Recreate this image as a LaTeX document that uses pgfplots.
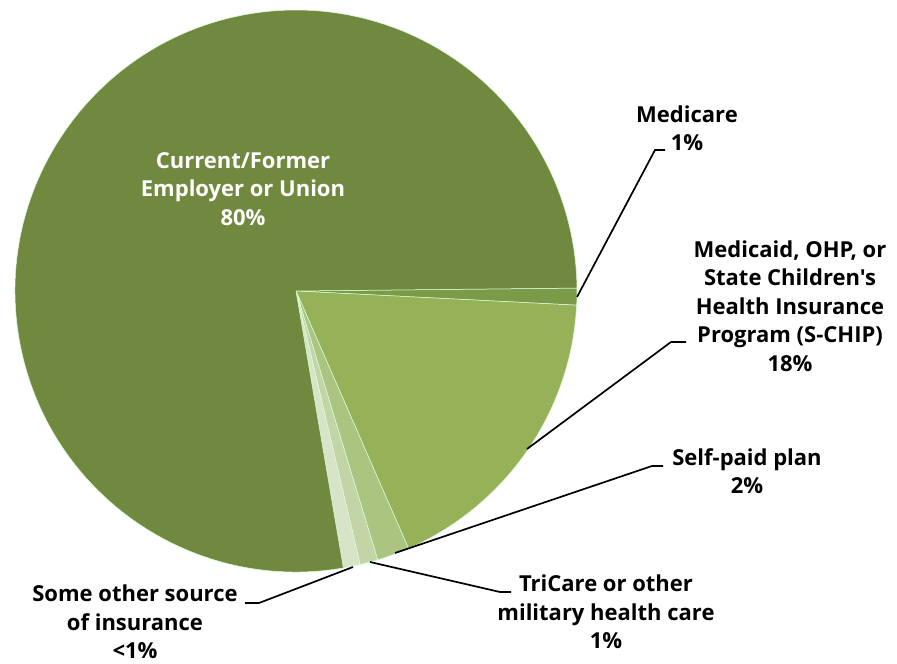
\documentclass[border=0pt]{standalone}
\usepackage{pgfplots}
\usepackage{pgfplotstable}
\pgfplotsset{compat=1.18}
\usepackage{fontspec}
\setmainfont{Open Sans}
\newfontfamily\labfont{Open Sans}
\definecolor{cEmp}{HTML}{71893F}
\definecolor{cMedicare}{HTML}{7C9B48}
\definecolor{cMedicaid}{HTML}{97B159}
\definecolor{cSelf}{HTML}{ABC47F}
\definecolor{cTri}{HTML}{C3D4A6}
\definecolor{cOther}{HTML}{D8E4C8}
\pgfplotstableread{
label value color
Medicare 0.97 cMedicare
Medicaid 17.64 cMedicaid
Selfpaid 1.86 cSelf
TriCare 1.03 cTri
Other 0.97 cOther
Employer 77.53 cEmp
}\piedata
\begin{document}
\begin{tikzpicture}[lab/.style={font=\labfont\bfseries\fontsize{22}{28.5}\selectfont, align=center, inner sep=0pt}]
\begin{axis}[name=ax, x=1pt, y=1pt, xmin=0, xmax=897, ymin=0, ymax=664, hide axis, clip=false]
\def\acc{0.6}
\pgfplotsforeachungrouped \i in {0,...,5}{%
  \pgfplotstablegetelem{\i}{value}\of\piedata \let\v\pgfplotsretval
  \pgfplotstablegetelem{\i}{color}\of\piedata \let\c\pgfplotsretval
  \pgfmathsetmacro\b{\acc-3.6*\v}%
  \edef\temp{\noexpand\fill[\c, draw=white!85!green, line width=0.5pt, line join=round] (axis cs:296,373) -- ++(\acc:281pt) arc[start angle=\acc, end angle=\b, radius=281pt] -- cycle;}%
  \temp
  \global\let\acc\b
}
% leader lines
\draw[black, line width=1.7pt] (axis cs:577,367) -- (axis cs:655,514) -- (axis cs:665,514);
\draw[black, line width=1.7pt] (axis cs:527,215) -- (axis cs:671,322) -- (axis cs:686,322);
\draw[black, line width=1.7pt] (axis cs:395,111) -- (axis cs:652,198) -- (axis cs:663,198);
\draw[black, line width=1.7pt] (axis cs:370,102) -- (axis cs:500,72) -- (axis cs:511,72);
\draw[black, line width=1.7pt] (axis cs:353,97) -- (axis cs:259,61) -- (axis cs:245,61);
% labels
\node[lab, text=white] at (axis cs:243,475) {Current/Former\\Employer or Union\\80\%};
\node[lab] at (axis cs:687,536) {Medicare\\1\%};
\node[lab] at (axis cs:790,358) {Medicaid, OHP, or\\State Children's\\Health Insurance\\Program (S-CHIP)\\18\%};
\node[lab] at (axis cs:747,193) {Self-paid plan\\2\%};
\node[lab] at (axis cs:606,52) {TriCare or other\\military health care\\1\%};
\node[lab] at (axis cs:135,42) {Some other source\\of insurance\\<1\%};
\end{axis}
\pgfresetboundingbox
\path (ax.south west) rectangle (ax.north east);
\end{tikzpicture}
\end{document}
